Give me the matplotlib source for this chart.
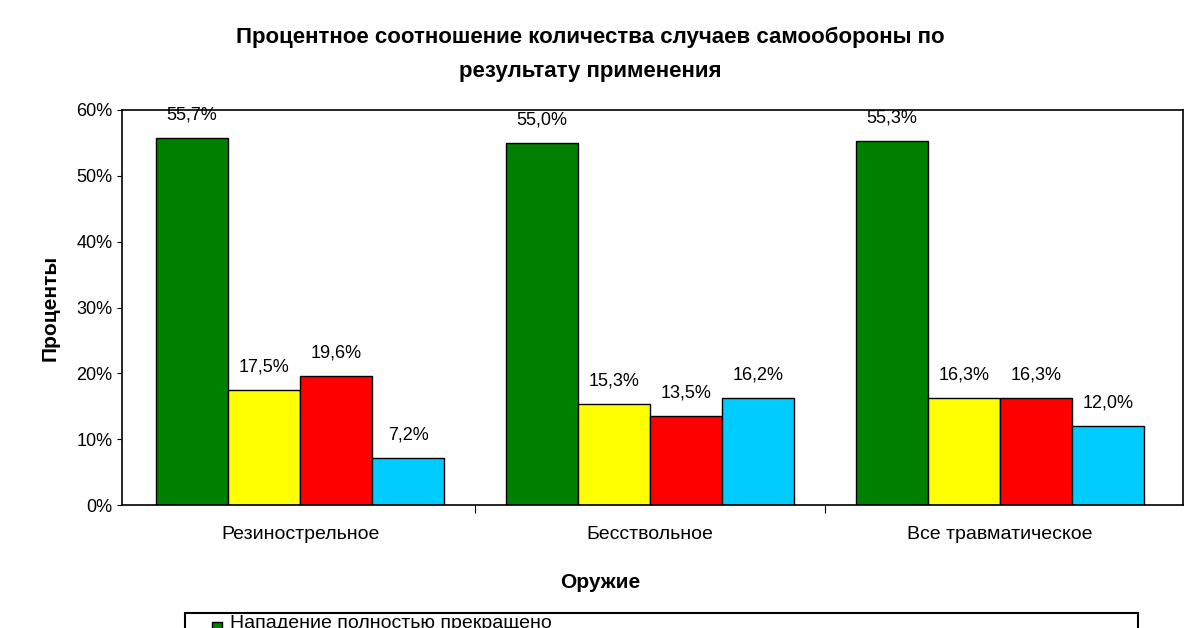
import matplotlib.pyplot as plt
from matplotlib.patches import Rectangle
import numpy as np

plt.rcParams['font.family'] = 'Liberation Sans'

categories = ['Резинострельное', 'Бесствольное', 'Все травматическое']
series_names = ['Нападение полностью прекращено', 'Серия 2', 'Серия 3', 'Серия 4']
values = [
    [55.7, 55.0, 55.3],
    [17.5, 15.3, 16.3],
    [19.6, 13.5, 16.3],
    [7.2, 16.2, 12.0],
]
colors = ['#008000', '#ffff00', '#ff0000', '#00ccff']

fig = plt.figure(figsize=(12, 6.28), dpi=100)
ax = fig.add_axes([122/1200, 1 - 505/628, (1183-122)/1200, (505-110)/628])

x = np.arange(len(categories))
w = 72/350
for i, vals in enumerate(values):
    pos = x + (i - 1.5) * w
    ax.bar(pos, vals, w, color=colors[i], edgecolor='black', linewidth=1)
    for p, v in zip(pos, vals):
        ax.text(p, v + 2.2, f'{v:.1f}%'.replace('.', ','), ha='center', va='bottom', fontsize=13)

ax.set_xlim(-0.509, 2.523)
ax.set_ylim(0, 60)
ax.set_yticks(range(0, 61, 10))
ax.set_yticklabels([f'{t}%' for t in range(0, 61, 10)], fontsize=13)
ax.set_xticks([0.5, 1.5], minor=False)
ax.set_xticks([0.5, 1.5])
ax.set_xticklabels([])
ax.tick_params(axis='x', length=6)
for xi, c in zip(x, categories):
    ax.text(xi, -4.5, c, ha='center', va='center', fontsize=14)
for s in ax.spines.values():
    s.set_linewidth(1.2)

ax.set_ylabel('Проценты', fontsize=15, fontweight='bold', labelpad=12)
fig.text(0.5, 1 - 582/628, 'Оружие', ha='center', va='center', fontsize=15, fontweight='bold')
fig.text(590/1200, 1 - 37/628, 'Процентное соотношение количества случаев самообороны по',
         ha='center', va='center', fontsize=16, fontweight='bold')
fig.text(590/1200, 1 - 72/628, 'результату применения',
         ha='center', va='center', fontsize=16, fontweight='bold')

# legend box, cut off at the bottom edge
fig.patches.append(Rectangle((185/1200, -0.1), (1138-185)/1200, 0.1 + (628-613)/628,
                             transform=fig.transFigure, fill=False, edgecolor='black', linewidth=1.5))
fig.patches.append(Rectangle((212/1200, 1 - 632/628), 10/1200, 10/628,
                             transform=fig.transFigure, facecolor=colors[0], edgecolor='black'))
fig.text(230/1200, 1 - 632/628, series_names[0], ha='left', va='bottom', fontsize=14)

fig.savefig('out.png', dpi=100, facecolor='white')
